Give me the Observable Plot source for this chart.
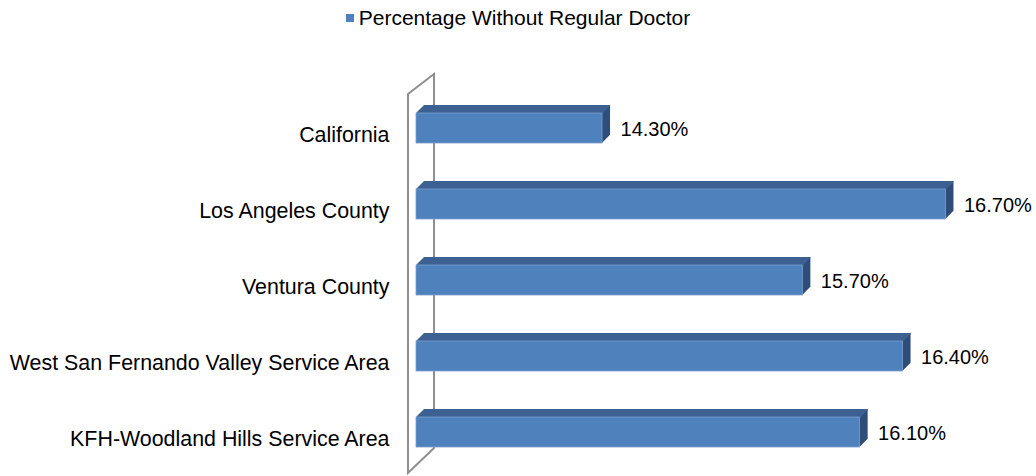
<!DOCTYPE html>
<html>
<head>
<meta charset="utf-8">
<script src="https://cdn.jsdelivr.net/npm/d3@7"></script>
<script src="https://cdn.jsdelivr.net/npm/@observablehq/plot@0.6"></script>
<style>
  body { margin: 0; background: #fff; font-family: "Liberation Sans", Arial, sans-serif; }
  #legend { height: 36px; display: flex; align-items: center; justify-content: center; font-size: 21px; color: #000; }
  #legend .sw { width: 8px; height: 8px; background: #4f81bd; margin-right: 5px; }
</style>
</head>
<body>
<div id="legend"><span class="sw"></span><span id="legend-text"></span></div>
<div id="chart"></div>
<script>
const categories = [
  "California",
  "Los Angeles County",
  "Ventura County",
  "West San Fernando Valley Service Area",
  "KFH-Woodland Hills Service Area"
];
const values = [14.3, 16.7, 15.7, 16.4, 16.1];
const seriesName = "Percentage Without Regular Doctor";
const axisMin = 13;
const axisMax = 17;

document.getElementById("legend-text").textContent = seriesName;

const data = categories.map((c, i) => ({category: c, value: values[i]}));

const FRONT = "#4f81bd", TOP = "#3c6192", SIDE = "#2e4d78";
const DEPTH = 8;
const BW = 30;

const depthSteps = d3.range(0.5, DEPTH + 0.01, 0.5);

const sideMarks = depthSteps.map(t => Plot.barX(data, {
  x1: () => axisMin, x2: "value", y: "category", fill: SIDE, dx: t, dy: -t
}));
const topMarks = [0, ...depthSteps].map(t => Plot.barX(data, {
  x1: () => axisMin, x2: "value", y: "category", fill: TOP, dx: t, dy: -t, insetBottom: BW - 1.2
}));

const plot = Plot.plot({
  width: 1036,
  height: 440,
  marginLeft: 416,
  marginRight: 47.6,
  marginTop: 51.625,
  marginBottom: 4.625,
  style: {fontFamily: "'Liberation Sans', Arial, sans-serif", background: "#fff"},
  x: {domain: [axisMin, axisMax], axis: null},
  y: {domain: categories, axis: null, paddingInner: 0.609, paddingOuter: 0.3045},
  marks: [
    ...sideMarks,
    ...topMarks,
    Plot.barX(data, {x1: () => axisMin, x2: "value", y: "category", fill: FRONT, stroke: "#7d9fcf", strokeWidth: 0.8}),
    Plot.text(data, {
      x: "value", y: "category", text: d => d3.format(".2f")(d.value) + "%",
      textAnchor: "start", dx: 18, dy: 1.5, fontSize: 20, fill: "#000"
    }),
    Plot.text(data, {
      y: "category", text: "category", frameAnchor: "left",
      textAnchor: "end", dx: -27, dy: 6.5, fontSize: 21.4, fill: "#000"
    })
  ]
});

document.getElementById("chart").appendChild(plot);

// back wall (chart decoration) anchored on the x scale minimum
const x0 = plot.scale("x").apply(axisMin);
const frameTop = 51.625, frameBottom = 440 - 4.625;
const wall = d3.path();
wall.moveTo(x0 - 8, frameTop + 6.4);
wall.lineTo(x0 + 18, frameTop - 13.6);
wall.lineTo(x0 + 18, frameBottom - 23.4);
wall.lineTo(x0 - 8, frameBottom + 1.6);
wall.closePath();
const svgSel = d3.select(plot);
const firstG = plot.querySelector("g");
svgSel.insert("path", () => firstG)
  .attr("d", wall.toString())
  .attr("fill", "none")
  .attr("stroke", "#8f8f8f")
  .attr("stroke-width", 2);
</script>
</body>
</html>
